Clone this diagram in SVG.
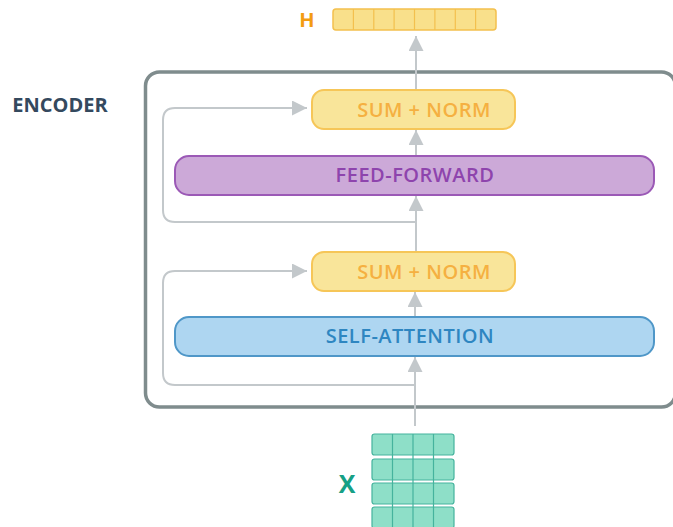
<svg xmlns="http://www.w3.org/2000/svg" width="673" height="527" viewBox="0 0 673 527">
  <style>
    .lbl { font-family: "Open Sans", "Liberation Sans", sans-serif; font-weight: 700; text-anchor: middle; }
    .block { font-family: "Open Sans", "Liberation Sans", sans-serif; font-weight: 600; font-size: 20px; text-anchor: middle; letter-spacing: 0.5px; }
    .sumnorm rect { fill: #f9e59a; stroke: #f6c658; stroke-width: 2; }
    .sumnorm text { fill: #f5b041; }
    .wire { fill: none; stroke: #c3c8cb; stroke-width: 2; }
    .xcell { fill: #8edfc8; stroke: #45b39d; stroke-width: 1.2; }
  </style>
  <defs>
    <marker id="head" viewBox="0 0 15 15" markerWidth="15" markerHeight="15" refX="15" refY="7.5" orient="auto" markerUnits="userSpaceOnUse">
      <path d="M0 0 L15 7.5 L0 15 Z" fill="#c3c8cb"/>
    </marker>
  </defs>
  <rect width="673" height="527" fill="#ffffff"/>

  <!-- encoder frame -->
  <g id="encoder">
    <rect x="145.5" y="72" width="530" height="335" rx="14" fill="none" stroke="#7f8c8d" stroke-width="3.5"/>
    <text class="lbl" x="60" y="112" font-size="20" fill="#34495e">ENCODER</text>
  </g>

  <!-- connectors -->
  <g id="connectors">
    <path class="wire" d="M415 426 V357" marker-end="url(#head)"/>
    <path class="wire" d="M415 317 V292" marker-end="url(#head)"/>
    <path class="wire" d="M416 252 V196" marker-end="url(#head)"/>
    <path class="wire" d="M416 156 V130" marker-end="url(#head)"/>
    <path class="wire" d="M416 90 V36" marker-end="url(#head)"/>
    <path class="wire" d="M415 385 H175 Q163 385 163 373 V283 Q163 271 175 271 H307" marker-end="url(#head)"/>
    <path class="wire" d="M416 222 H175 Q163 222 163 210 V120 Q163 108 175 108 H307" marker-end="url(#head)"/>
  </g>

  <!-- output H -->
  <g id="output-h">
    <text class="lbl" x="307" y="27" font-size="20" fill="#f39c12">H</text>
    <rect x="333" y="9" width="163" height="21" rx="3" fill="#f9e08b" stroke="#f3c04e" stroke-width="1.5"/>
    <path d="M353.4 9V30M373.8 9V30M394.1 9V30M414.5 9V30M434.9 9V30M455.3 9V30M475.6 9V30" stroke="#f3c04e" stroke-width="1.2"/>
  </g>

  <g id="sum-norm-2" class="sumnorm">
    <rect x="312" y="90" width="203" height="39" rx="12"/>
    <text class="block" x="424" y="117">SUM + NORM</text>
  </g>

  <g id="feed-forward">
    <rect x="175" y="156" width="479" height="39" rx="14" fill="#cca9d8" stroke="#9b59b6" stroke-width="2"/>
    <text class="block" x="415" y="182" fill="#8e44ad">FEED-FORWARD</text>
  </g>

  <g id="sum-norm-1" class="sumnorm">
    <rect x="312" y="252" width="203" height="39" rx="12"/>
    <text class="block" x="424" y="279">SUM + NORM</text>
  </g>

  <g id="self-attention">
    <rect x="175" y="317" width="479" height="39" rx="14" fill="#aed6f1" stroke="#4f97c8" stroke-width="2"/>
    <text class="block" x="410" y="343" fill="#2e86c1">SELF-ATTENTION</text>
  </g>

  <!-- input X -->
  <g id="input-x">
    <text class="lbl" x="347" y="493" font-size="25" fill="#16a085">X</text>
    <g>
      <rect class="xcell" x="372" y="434" width="82" height="21" rx="2.5"/>
      <rect class="xcell" x="372" y="459" width="82" height="21" rx="2.5"/>
      <rect class="xcell" x="372" y="483" width="82" height="21" rx="2.5"/>
      <rect class="xcell" x="372" y="507" width="82" height="21" rx="2.5"/>
      <path d="M392.5 434V528M413 434V528M433.5 434V528" stroke="#45b39d" stroke-width="1.2"/>
    </g>
  </g>
</svg>
